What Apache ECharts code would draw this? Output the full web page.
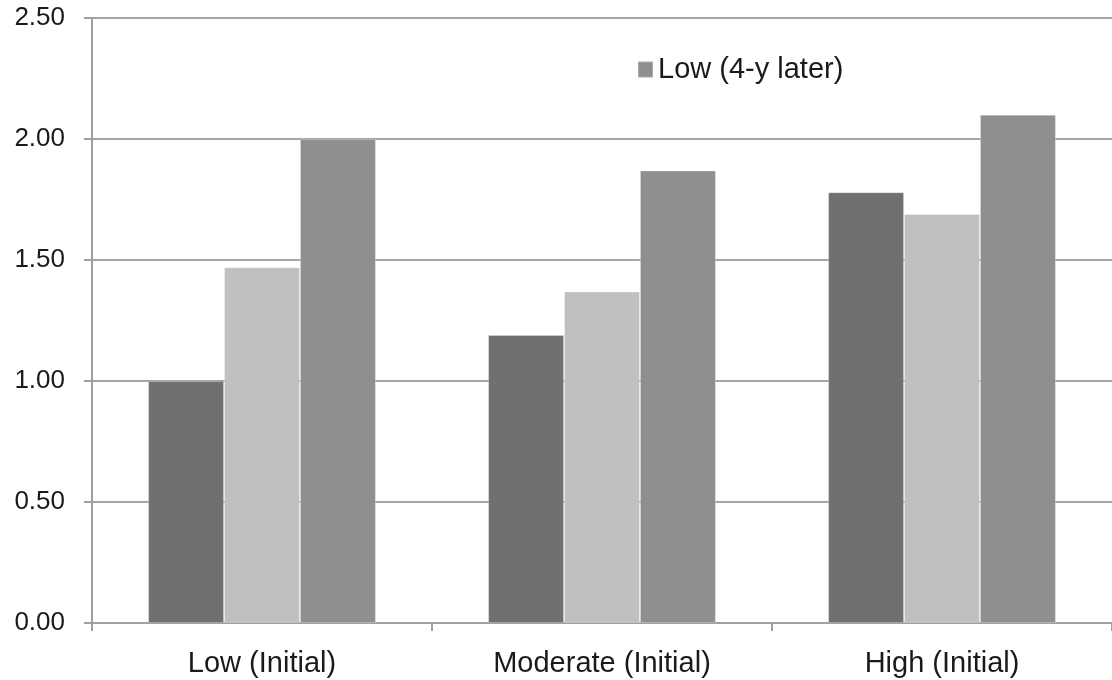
<!DOCTYPE html>
<html>
<head>
<meta charset="utf-8">
<script src="https://cdn.jsdelivr.net/npm/echarts@6/dist/echarts.min.js"></script>
<style>
html,body{margin:0;padding:0;background:#fff;}
#chart{width:1112px;height:680px;}
</style>
</head>
<body>
<div id="chart"></div>
<script>
const categories = ['Low (Initial)', 'Moderate (Initial)', 'High (Initial)'];
const seriesNames = ['Series 1', 'Series 2', 'Low (4-y later)'];
const values1 = [1.00, 1.19, 1.78];
const values2 = [1.47, 1.37, 1.69];
const values3 = [2.00, 1.87, 2.10];
const yTicks = { min: 0, max: 2.5, interval: 0.5 };
const colors = ['#707070', '#c0c0c0', '#8f8f8f'];

const chart = echarts.init(document.getElementById('chart'));
const font = 'Liberation Sans, Arial, sans-serif';
const mk = (name, data, color) => ({
  name, type: 'bar', data,
  barGap: '0%', barCategoryGap: '33%',
  itemStyle: { color, borderColor: 'rgba(255,255,255,0.25)', borderWidth: 1 }
});
chart.setOption({
  animation: false,
  grid: { left: 92, right: 0, top: 18, bottom: 57, containLabel: false },
  legend: {
    data: [seriesNames[2]],
    left: 632, top: 50,
    itemWidth: 15, itemHeight: 16, icon: 'rect', itemGap: 6,
    textStyle: { fontFamily: font, fontSize: 29, color: '#1a1a1a' }
  },
  xAxis: {
    type: 'category', data: categories,
    axisLine: { show: true, lineStyle: { color: '#a0a0a0', width: 2 } },
    axisTick: { show: true, length: 8, lineStyle: { color: '#a0a0a0', width: 2 } },
    axisLabel: { margin: 26, fontFamily: font, fontSize: 29, color: '#1a1a1a' }
  },
  yAxis: {
    type: 'value', min: yTicks.min, max: yTicks.max, interval: yTicks.interval,
    axisLine: { show: true, lineStyle: { color: '#a0a0a0', width: 2 } },
    axisTick: { show: true, length: 8, lineStyle: { color: '#a0a0a0', width: 2 } },
    splitLine: { show: true, lineStyle: { color: '#a6a6a6', width: 2 } },
    axisLabel: { margin: 27, fontFamily: font, fontSize: 26, color: '#1a1a1a',
      formatter: v => v.toFixed(2) }
  },
  series: [
    mk(seriesNames[0], values1, colors[0]),
    mk(seriesNames[1], values2, colors[1]),
    mk(seriesNames[2], values3, colors[2])
  ]
});
</script>
</body>
</html>
